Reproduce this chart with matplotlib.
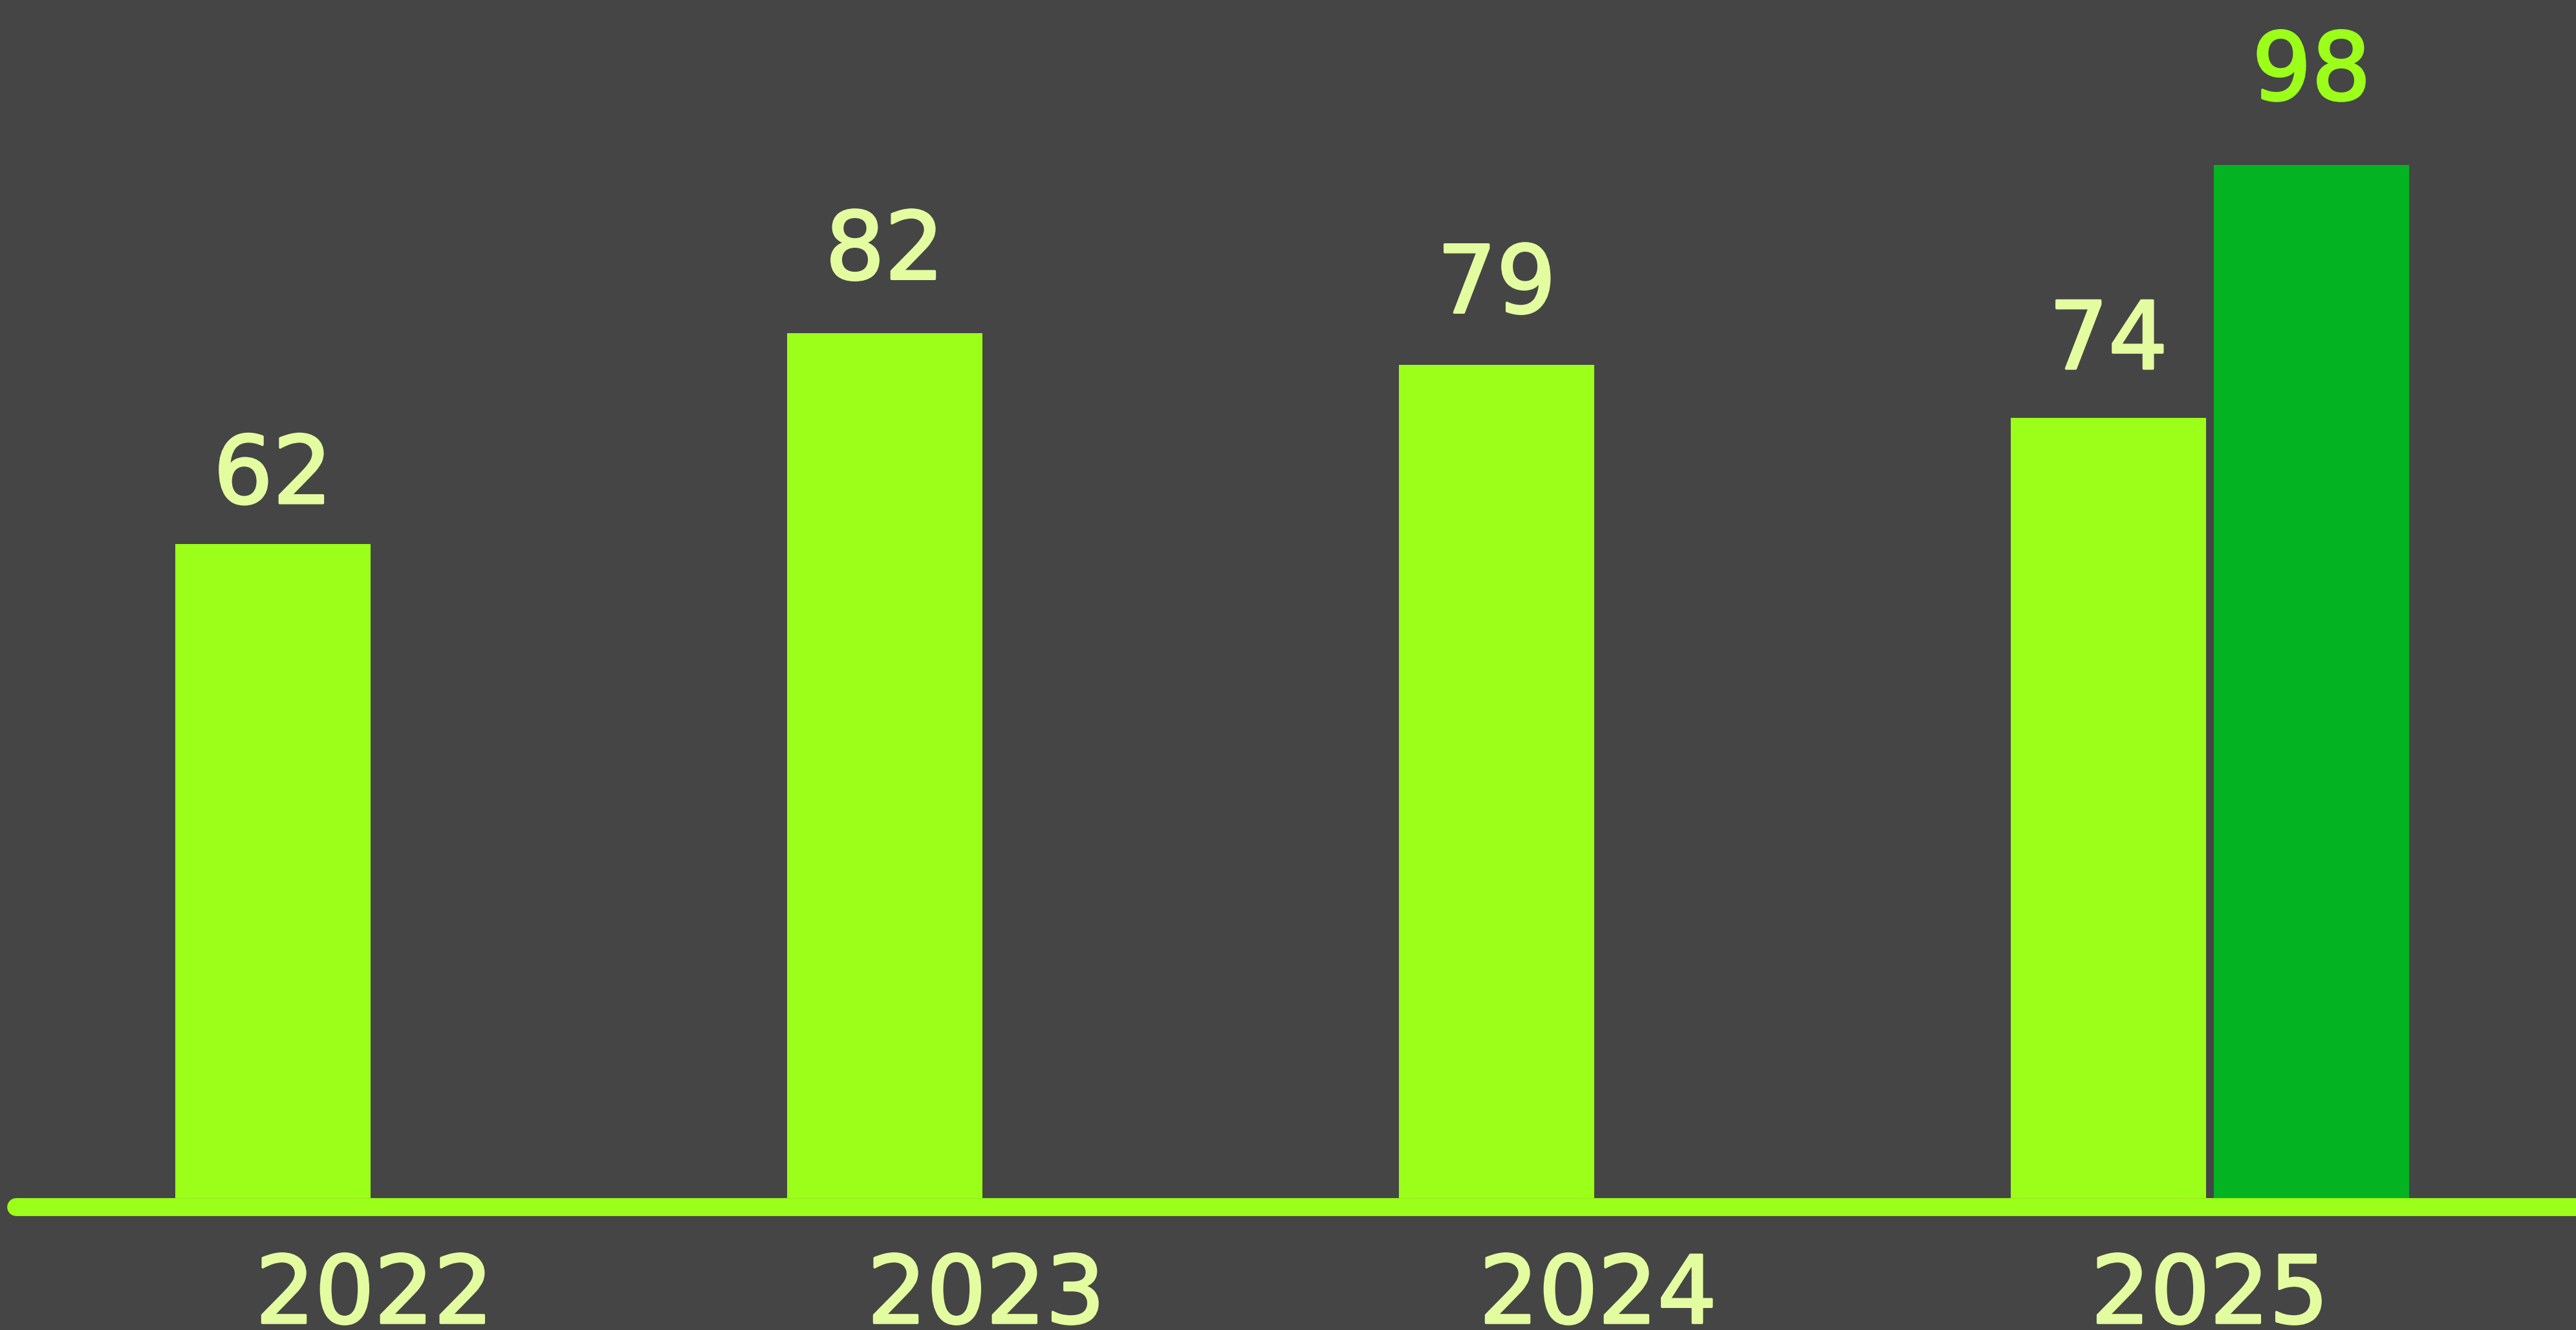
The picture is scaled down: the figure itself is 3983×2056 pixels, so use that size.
import matplotlib
matplotlib.use("Agg")
import matplotlib.pyplot as plt
import matplotlib.patheffects as pe
import numpy as np

years = ["2022", "2023", "2024", "2025"]
series_a = [62, 82, 79, 74]
series_b = [None, None, None, 98]

BG = "#454545"
LIGHT = "#9BFF19"
DARK = "#04B322"
TEXT = "#E4FCA0"

W, H = 3983, 2056
fig = plt.figure(figsize=(W / 100, H / 100), dpi=100, facecolor=BG)
base_px = 1852
ax = fig.add_axes([0, (H - base_px) / H, 1, base_px / H])
ax.set_facecolor(BG)
for s in ax.spines.values():
    s.set_visible(False)
ax.set_xticks([])
ax.set_yticks([])

px_per_unit = 16.3
ax.set_ylim(0, base_px / px_per_unit)
spacing = 946.0
c0 = 579.0
ax.set_xlim(-c0 / spacing, (W - c0) / spacing)

x = np.arange(len(years))
bw = 0.32
off = 0.166
font = ["DejaVu Sans"]
fs = 104
lab_k = 1.063

def thick(color):
    return [pe.withStroke(linewidth=2.6, foreground=color)]

def label(xp, v, color):
    ax.text(xp, v * lab_k, str(v), ha="center", va="baseline",
            color=color, fontsize=fs, family=font, zorder=4,
            path_effects=thick(color))

for i in range(len(years)):
    va = series_a[i]
    vb = series_b[i]
    ax.bar(x[i] - off, va, width=bw, color=LIGHT, zorder=3)
    label(x[i] - off, va, TEXT)
    if vb is not None:
        ax.bar(x[i] + off, vb, width=bw, color=DARK, zorder=3)
        label(x[i] + off, vb, LIGHT)
    ax.text(x[i], -11.84, years[i], ha="center", va="baseline",
            color=TEXT, fontsize=fs, family=font, clip_on=False, zorder=4,
            path_effects=thick(TEXT))

# baseline
xl = ax.get_xlim()
ax.plot([xl[0] + 25 / spacing, xl[1] + 0.2], [-0.86, -0.86], color=LIGHT,
        lw=20, solid_capstyle="round", clip_on=False, zorder=2)

fig.savefig("out.png", dpi=100, facecolor=BG)
